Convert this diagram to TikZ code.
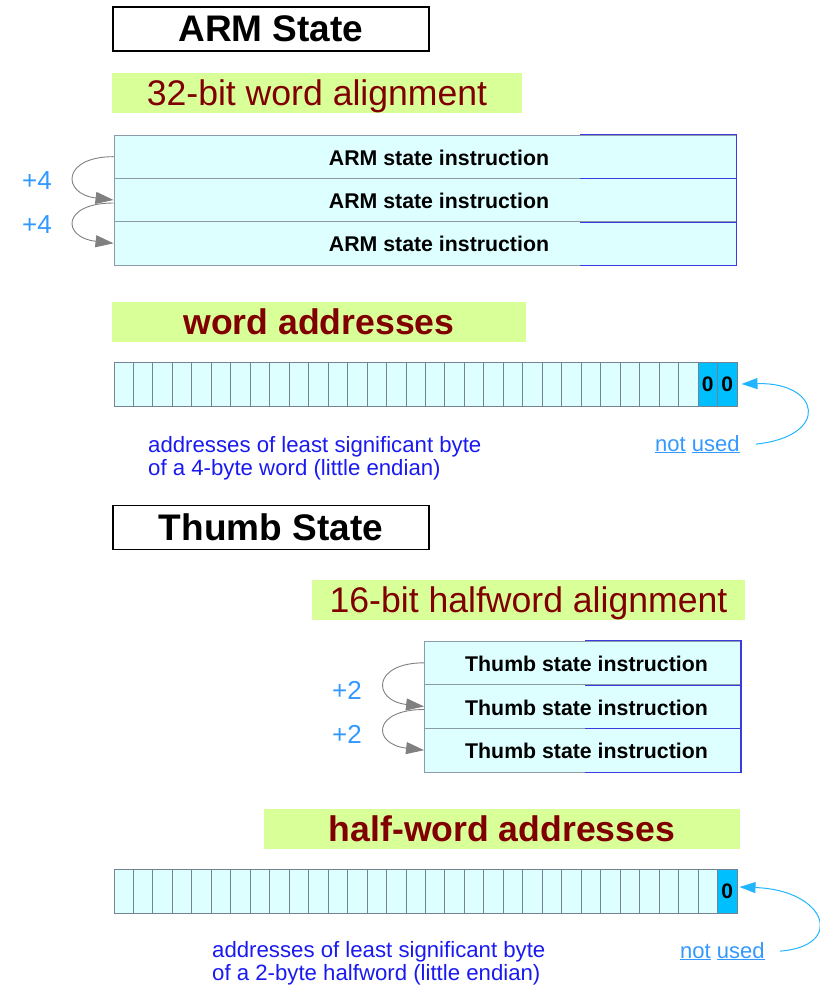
\documentclass[tikz,border=0pt]{standalone}
\usepackage{fontspec}
\setmainfont{Liberation Sans}
\usetikzlibrary{arrows.meta}

\definecolor{cellfill}{HTML}{DDFFFF}
\definecolor{cellline}{HTML}{738394}
\definecolor{rowline}{HTML}{8C9BAA}
\definecolor{bandgreen}{HTML}{D9FF99}
\definecolor{darkred}{HTML}{800000}
\definecolor{hotcell}{HTML}{00BFFF}
\definecolor{stepblue}{HTML}{3399FF}
\definecolor{notecol}{HTML}{1A1AF0}
\definecolor{edgeblue}{HTML}{3A3AE0}
\definecolor{arrowgray}{HTML}{808080}
\definecolor{linkcyan}{HTML}{22B5FF}

\tikzset{
  titlebox/.style={draw=black, line width=1.5pt, fill=white, inner sep=0pt,
    minimum width=316pt, minimum height=44pt, font=\bfseries\fontsize{37}{40}\selectfont},
  band/.style={fill=bandgreen, inner sep=0pt, minimum height=40pt, text=darkred, text depth=0pt},
  bandplain/.style={band, font=\fontsize{35.6}{40}\selectfont},
  bandbold/.style={band, font=\bfseries\fontsize{35.6}{40}\selectfont},
  instr/.style={draw=rowline, fill=cellfill, line width=0.9pt, inner sep=0pt},
  instrtext/.style={font=\bfseries\fontsize{21.3}{24}\selectfont, inner sep=0pt},
  blueedge/.style={draw=edgeblue, line width=1.1pt},
  cell/.style={draw=cellline, fill=cellfill, line width=1pt, inner sep=0pt,
    minimum width=19.47pt, minimum height=44pt},
  hot/.style={cell, fill=hotcell, font=\bfseries\fontsize{21}{24}\selectfont},
  stepnum/.style={text=stepblue, font=\fontsize{26}{28}\selectfont, inner sep=0pt},
  steparrow/.style={draw=arrowgray, line width=0.9pt, -{Triangle[length=18pt,width=12pt]}},
  linkarrow/.style={draw=linkcyan, line width=1pt, -{Triangle[length=16pt,width=11pt]}},
  note/.style={text=notecol, font=\fontsize{22.2}{23}\selectfont, inner sep=0pt, anchor=base west},
  unused/.style={text=stepblue, font=\fontsize{22}{23}\selectfont, inner sep=0pt, anchor=base west},
}

\begin{document}
\begin{tikzpicture}[x=1pt,y=-1pt]
\useasboundingbox (0,0) rectangle (819,987);

% ---------------- ARM state ----------------
\node[titlebox] (armtitle) at (271,29) {ARM State};
\node[bandplain, minimum width=410pt] (armalign) at (317,93) {32-bit word alignment};

\foreach \r/\y in {1/156.67,2/200,3/243.33}
  \node[instr, minimum width=622pt, minimum height=43.33pt,
        label={[instrtext, xshift=14pt, yshift=-1pt]center:ARM state instruction}] (a\r) at (425,\y) {};
\draw[blueedge] ([xshift=155pt]a1.north) -- (a1.north east) -- (a3.south east) -- ([xshift=155pt]a3.south);
\draw[blueedge] ([xshift=155pt]a1.south) -- (a1.south east);
\draw[blueedge] ([xshift=155pt]a2.south) -- (a2.south east);

\node[stepnum] (armstep1) at (37,181) {+4};
\node[stepnum] (armstep2) at (37,225) {+4};
\draw[steparrow] (a1.west) .. controls +(-52,0) and +(-52,-6) .. (a2.west);
\draw[steparrow] ([yshift=-3pt]a2.west) .. controls +(-52,0) and +(-52,-6) .. (a3.west);

\node[bandbold, minimum width=414pt] (wordaddr) at (319,322) {word addresses};

\foreach \i in {1,...,30}
  \node[cell] (w\i) at ({114+(\i-0.5)*19.469},384) {};
\node[hot] (w31) at ({114+30.5*19.469},384) {0};
\node[hot] (w32) at ({114+31.5*19.469},384) {0};

\node[note] (wnote1) at (148,452) {addresses of least significant byte};
\node[note] (wnote2) at (148,475) {of a 4-byte word (little endian)};
\node[unused] (nu1) at (655,451) {\underline{not} \underline{used}};
\draw[linkarrow] ([xshift=16pt]nu1.east) .. controls +(75,-8) and +(79,-2) .. ([xshift=4pt]w32.east);

% ---------------- Thumb state ----------------
\node[titlebox] (thumbtitle) at (271,527.5) {Thumb State};
\node[bandplain, minimum width=433pt] (thumbalign) at (528.5,600) {16-bit halfword alignment};

\foreach \r/\y in {1/662.83,2/706.5,3/750.17}
  \node[instr, minimum width=316pt, minimum height=43.67pt,
        label={[instrtext, xshift=4pt, yshift=-1pt]center:Thumb state instruction}] (t\r) at (582.5,\y) {};
\draw[blueedge] ([xshift=2.5pt]t1.north) -- (t1.north east) -- (t3.south east) -- ([xshift=2.5pt]t3.south);
\draw[blueedge] ([xshift=2.5pt]t1.south) -- (t1.south east);
\draw[blueedge] ([xshift=2.5pt]t2.south) -- (t2.south east);

\node[stepnum] (thstep1) at (347,690) {+2};
\node[stepnum] (thstep2) at (347,734) {+2};
\draw[steparrow] (t1.west) .. controls +(-52,0) and +(-52,-6) .. (t2.west);
\draw[steparrow] ([yshift=-3pt]t2.west) .. controls +(-52,0) and +(-52,-6) .. (t3.west);

\node[bandbold, minimum width=476pt] (halfaddr) at (502,828.5) {half-word addresses};

\foreach \i in {1,...,31}
  \node[cell] (h\i) at ({114+(\i-0.5)*19.469},891) {};
\node[hot] (h32) at ({114+31.5*19.469},891) {0};

\node[note] (hnote1) at (212,957) {addresses of least significant byte};
\node[note] (hnote2) at (212,980) {of a 2-byte halfword (little endian)};
\node[unused] (nu2) at (680,958) {\underline{not} \underline{used}};
\draw[linkarrow] ([xshift=15pt]nu2.east) .. controls +(66,-5) and +(87,3) .. ([xshift=2pt,yshift=4pt]h32.east);
\end{tikzpicture}
\end{document}
